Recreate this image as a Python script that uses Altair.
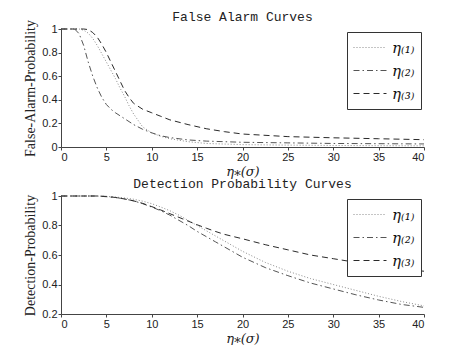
import altair as alt
import pandas as pd

series_names = ["η₍₁₎", "η₍₂₎", "η₍₃₎"]

# False alarm curves
fa_x = [0, 1, 1.5, 2, 2.5, 3, 3.5, 4, 4.5, 5, 5.5, 6, 6.5, 7, 7.5, 8, 9, 10, 11, 12, 14, 16, 18, 20, 25, 30, 35, 40]
fa_eta1 = [1, 1, 1, 1, 0.99, 0.965, 0.92, 0.86, 0.79, 0.72, 0.65, 0.58, 0.5, 0.43, 0.35, 0.28, 0.17, 0.12, 0.09, 0.07, 0.045, 0.03, 0.025, 0.02, 0.016, 0.013, 0.011, 0.01]
fa_eta2 = [1, 1, 1, 0.96, 0.86, 0.72, 0.6, 0.5, 0.42, 0.36, 0.32, 0.29, 0.265, 0.24, 0.215, 0.19, 0.15, 0.12, 0.095, 0.08, 0.06, 0.05, 0.045, 0.04, 0.035, 0.03, 0.028, 0.026]
fa_eta3 = [1, 1, 1, 1, 1, 0.995, 0.97, 0.93, 0.87, 0.8, 0.72, 0.64, 0.56, 0.48, 0.42, 0.37, 0.32, 0.29, 0.26, 0.23, 0.19, 0.155, 0.13, 0.11, 0.088, 0.078, 0.07, 0.062]

# Detection probability curves
dp_x = [0, 2, 4, 5, 6, 7, 8, 9, 10, 11, 12, 13, 14, 15, 16, 17, 18, 20, 22.5, 25, 27.5, 30, 32.5, 35, 37.5, 40]
dp_eta1 = [1, 1, 1, 0.997, 0.993, 0.987, 0.978, 0.965, 0.948, 0.925, 0.9, 0.87, 0.835, 0.8, 0.765, 0.73, 0.695, 0.625, 0.55, 0.49, 0.44, 0.4, 0.36, 0.32, 0.285, 0.255]
dp_eta2 = [1, 1, 1, 0.995, 0.99, 0.98, 0.967, 0.948, 0.925, 0.9, 0.87, 0.835, 0.8, 0.76, 0.725, 0.69, 0.655, 0.585, 0.515, 0.46, 0.41, 0.37, 0.33, 0.295, 0.265, 0.245]
dp_eta3 = [1, 1, 1, 0.997, 0.99, 0.98, 0.967, 0.95, 0.928, 0.905, 0.88, 0.855, 0.83, 0.805, 0.782, 0.76, 0.74, 0.71, 0.67, 0.635, 0.6, 0.575, 0.55, 0.525, 0.505, 0.49]

x_ticks = [0, 5, 10, 15, 20, 25, 30, 35, 40]


def long_df(xs, ys_list):
    rows = []
    for name, ys in zip(series_names, ys_list):
        for i, (x, y) in enumerate(zip(xs, ys)):
            rows.append({"x": x, "y": y, "s": name, "o": i})
    return pd.DataFrame(rows)


fa_df = long_df(fa_x, [fa_eta1, fa_eta2, fa_eta3])
dp_df = long_df(dp_x, [dp_eta1, dp_eta2, dp_eta3])

dash_scale = alt.Scale(domain=series_names, range=[[1, 2], [6, 3, 1.5, 3], [6, 4]])
color_scale = alt.Scale(domain=series_names, range=["#8a8a8a", "#555555", "#2a2a2a"])

legend = alt.Legend(
    title=None, orient="none", legendX=286, legendY=3,
    strokeColor="#333333", fillColor="white", padding=6, cornerRadius=0,
    symbolType="stroke", symbolSize=1089, symbolStrokeWidth=1,
    labelFont="DejaVu Serif", labelFontStyle="italic", labelFontSize=15,
    labelColor="#111111", labelOffset=5, rowPadding=4, clipHeight=19,
)

W, H = 363, 118


def panel(df, title, ytitle, ydomain, yticks, dy):
    return alt.Chart(df, title=alt.Title(title, dy=dy, frame="group")).mark_line(strokeWidth=1).encode(
        x=alt.X("x:Q", scale=alt.Scale(domain=[0, 40], nice=False),
                axis=alt.Axis(values=x_ticks, title="η⁎(σ)")),
        y=alt.Y("y:Q", scale=alt.Scale(domain=ydomain, nice=False),
                axis=alt.Axis(values=yticks, format="~g", title=ytitle)),
        strokeDash=alt.StrokeDash("s:N", scale=dash_scale, legend=legend),
        color=alt.Color("s:N", scale=color_scale, legend=legend),
        order="o:Q",
        detail="s:N",
    ).properties(width=W, height=H)


top = panel(fa_df, "False Alarm Curves", "False-Alarm-Probability", [0, 1], [0, 0.2, 0.4, 0.6, 0.8, 1], 10)
bottom = panel(dp_df, "Detection Probability Curves", "Detection-Probability", [0.2, 1], [0.2, 0.4, 0.6, 0.8, 1], 7)

chart = alt.vconcat(top, bottom, spacing=49, bounds="flush").resolve_legend(
    strokeDash="independent", color="independent"
).resolve_scale(strokeDash="independent", color="independent").properties(
    padding={"left": 15, "top": 2, "right": 5, "bottom": 0},
    background="white",
).configure_view(stroke=None).configure_axis(
    domainColor="#444444", tickColor="#444444", tickSize=3, grid=False,
    labelFont="Liberation Sans", labelFontSize=11, labelColor="#222222", labelPadding=1,
    titleFont="Liberation Serif", titleFontSize=14, titleFontWeight="normal", titleColor="#222222",
).configure_axisX(
    titleFontStyle="italic", titlePadding=3, titleFont="DejaVu Serif", titleFontSize=13,
).configure_axisY(titlePadding=4).configure_title(
    font="Liberation Mono", fontSize=13, fontWeight="normal", color="#222222", offset=6,
)

chart.save("out.html", embed_options={"renderer": "svg", "actions": False})
